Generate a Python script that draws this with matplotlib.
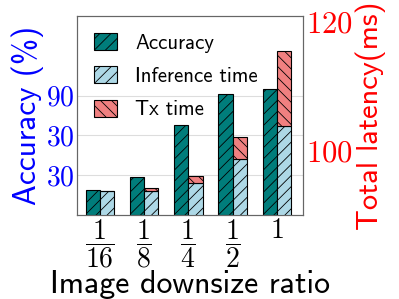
import numpy as np
import matplotlib
matplotlib.use("Agg")
import matplotlib.pyplot as plt

plt.rcParams['mathtext.fontset'] = 'cm'
plt.rcParams['font.family'] = ['cmss10', 'DejaVu Sans']
plt.rcParams['hatch.linewidth'] = 0.6

ratios = [r'$\dfrac{1}{16}$', r'$\dfrac{1}{8}$', r'$\dfrac{1}{4}$', r'$\dfrac{1}{2}$', r'$1$']
accuracy = [19, 29, 68, 91, 95]
inference_ms = [93.7, 93.8, 95.0, 98.7, 103.9]
tx_ms = [0.0, 0.4, 1.1, 3.4, 11.6]
acc_ticks = [30, 60, 90]
acc_tick_labels = ['30', '30', '90']
lat_ticks = [100, 120]

x = np.arange(len(ratios))
w = 0.32

fig = plt.figure(figsize=(3.99, 2.99), dpi=100)
ax = fig.add_axes([0.193, 0.281, 0.566, 0.665])
ax2 = ax.twinx()

b1 = ax.bar(x - w / 2, accuracy, w, color='#007d7b', edgecolor='black', hatch='///',
            linewidth=0.8, label='Accuracy')
ax.set_ylim(0, 150)
ax.set_yticks(acc_ticks)
ax.set_yticklabels(['$%s$' % t for t in acc_tick_labels], color='blue', fontsize=20)
ax.set_ylabel('Accuracy (%)', color='blue', fontsize=22.5, labelpad=1)
ax.grid(axis='y', color='#dddddd', linewidth=0.8)
ax.set_axisbelow(True)
ax.set_xticks(x)
ax.set_xticklabels(ratios, fontsize=20)
ax.set_xlim(-0.52, 4.59)
ax.set_xlabel('Image downsize ratio', fontsize=23, labelpad=0)
ax.tick_params(length=0, pad=2)

b2 = ax2.bar(x + w / 2, inference_ms, w, color='#add8e6', edgecolor='black', hatch='///',
             linewidth=0.8, label='Inference time')
b3 = ax2.bar(x + w / 2, tx_ms, w, bottom=inference_ms, color='#f08080', edgecolor='black',
             hatch='\\\\\\', linewidth=0.8, label='Tx time')
ax2.set_ylim(90, 120.9)
ax2.set_yticks(lat_ticks)
ax2.set_yticklabels(['$%d$' % t for t in lat_ticks], color='red', fontsize=22)
ax2.set_ylabel('Total latency(ms)', color='red', fontsize=22, labelpad=2)
ax2.tick_params(length=0, pad=2)

for a in (ax, ax2):
    for s in a.spines.values():
        s.set_color('#666666')

ax2.legend([b1, b2, b3], ['Accuracy', 'Inference time', 'Tx time'], loc='upper left',
           frameon=False, fontsize=15, handlelength=1.1, handleheight=0.9,
           labelspacing=0.65, borderaxespad=0.4, handletextpad=0.9)

fig.savefig('out.png', dpi=100)
